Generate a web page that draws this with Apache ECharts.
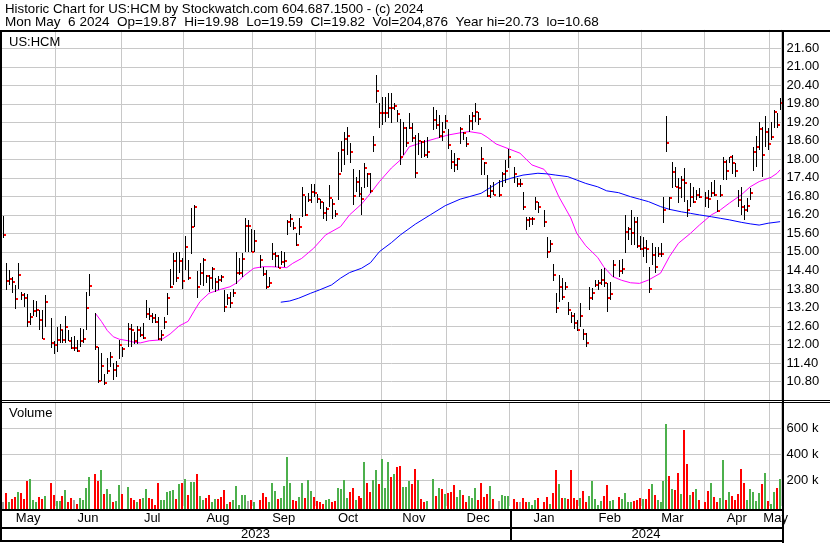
<!DOCTYPE html>
<html><head><meta charset="utf-8">
<script src="https://cdn.jsdelivr.net/npm/echarts@6/dist/echarts.min.js"></script>
<style>html,body{margin:0;padding:0;background:#fff}#c{width:830px;height:543px}</style>
</head><body><div id="c"></div>
<script>
// ---------- DATA ----------
const startDate = '2023-05-08';
const endDate = '2024-05-06';
const holidays = ['2023-05-29','2023-06-19','2023-07-04','2023-09-04','2023-11-23','2023-12-25','2024-01-01','2024-01-15','2024-02-19','2024-03-29'];

const highs = [
16.15,14.63,14.41,14.20,13.93, 14.63,13.71,13.66,13.64,13.01, 13.44,13.42,13.12,13.12,13.60, null,12.85,12.11,
12.56,12.66, 12.47,12.92,12.47,12.25,12.27, 12.15,12.53,12.51,13.71,14.30, null,13.01,11.93,11.71,11.04, 11.55,11.75,11.39,11.46,12.15,
11.93,null,12.69,12.65,12.40, 12.60,12.56,12.71,13.44,13.17, 13.03,12.98,12.88,12.47,12.90, 13.66,14.45,14.97,15.00,15.01, 14.79,
15.52,14.74,16.41,16.52, 14.38,14.65,14.79,14.25,14.24, 14.50,14.14,14.22,14.25,13.77, 13.64,13.71,13.81,15.00,14.80, 14.98,16.09,16.03,15.73,
15.71,null,14.90,14.52,14.41,14.20, 15.30,15.01,14.90,15.04,15.01, 16.03,16.22,15.98,15.60,16.11, 17.12,16.81,16.92,17.20,17.20,
16.88,16.70,16.63,16.45,17.17, 16.70,16.36,18.25,18.60,18.90, 19.04,18.52,17.68,17.44,17.66, 17.12,17.87,17.55,17.55,18.76, 20.73,19.82,
20.03,20.01,20.14, 20.14,19.82,19.60,19.30,19.22, 19.06,19.49,19.17,18.79,18.84, 18.60,18.63,18.74,null,19.71, 19.60,19.45,19.20,19.45,
19.00, 18.30,18.20,18.05,19.05,18.90, 18.74,19.44,19.55,19.82,19.55, 18.41,17.92,17.49,17.17,17.28, null,17.33,17.60,17.98,18.33,
null,17.76,17.39,17.35,16.95, 16.14,16.14,16.14,16.79,16.63, null,16.36,15.49,15.39,14.61, 13.66,14.25,14.14,14.04,13.39, 13.06,13.01,12.79,
13.33,12.49, 12.36,13.87,13.82,14.09,14.09, 14.44,14.47,13.98,14.04,14.74, null,14.74,14.78,16.20,15.82, 16.36,16.14,16.14,15.50,
15.47, 15.39,14.52,15.28,15.17,15.17, 15.28,16.79,19.41,16.79,17.93, 17.76,17.39,17.46,17.71,16.68, 17.22,17.12,17.00,17.06,null,
16.95,17.00,17.28,17.33,16.68, 17.17,18.09,17.98,18.09,18.14, 17.87,17.01,17.12,16.52,16.74, 17.06,18.41,18.76,19.22,19.06, 19.41,19.01,
19.22,19.60,19.49, 19.98];

const lows = [
15.45,13.77,13.93,13.68,13.16, 13.79,13.43,13.20,12.58,12.64, 12.92,12.90,12.47,12.19,12.58, null,11.87,11.68,
11.77,12.04, 12.06,12.04,12.10,11.84,11.80, 11.76,11.93,12.06,12.47,13.57, null,11.82,10.74,10.83,10.68, 11.04,11.28,10.85,10.96,11.52,
11.60,null,11.93,11.92,12.00, 12.00,12.25,12.19,12.85,12.79, 12.68,12.68,12.14,12.12,12.49, 12.96,13.82,13.93,14.04,14.33, 13.79,
14.41,14.09,14.92,15.82, 13.50,13.93,13.90,13.98,13.71, 13.79,13.71,13.77,14.04,13.06, 13.28,13.17,13.55,13.96,14.25, 14.18,15.01,15.01,15.01,
15.01,null,14.47,14.22,13.79,13.87, 14.74,14.52,14.47,14.58,14.52, 15.55,15.82,15.71,15.19,15.55, 16.14,16.16,16.63,16.58,16.79,
16.58,16.38,16.06,16.01,16.45, 16.08,16.14,16.68,17.60,17.82, 18.14,17.89,16.52,16.95,16.79, 16.20,17.06,17.12,16.90,18.25, 19.82,19.01,
19.11,19.22,19.33, 19.17,19.60,19.22,17.82,18.14, 18.41,19.00,18.57,17.39,18.14, 18.03,18.09,18.03,null,18.95, 19.00,18.70,18.60,19.00,
18.35, 17.70,17.60,17.65,18.50,18.63, 18.41,18.90,18.95,19.22,19.11, 17.49,17.49,16.79,16.74,16.85, null,16.79,17.12,17.22,17.71,
null,17.22,17.12,17.12,16.36, 15.71,15.82,15.87,16.36,16.25, null,15.82,14.79,15.01,14.07, 13.01,13.39,13.44,13.77,12.96, 12.69,12.49,12.45,
12.58,12.15, 11.93,13.12,13.44,13.87,13.77, 13.93,13.87,13.06,13.44,14.20, null,14.20,14.30,14.95,15.39, 15.22,15.22,15.12,15.06,
14.85, 14.63,13.66,14.58,14.31,14.85, 14.85,15.93,18.25,16.36,17.06, 17.12,16.57,16.74,16.63,16.14, 16.47,16.60,16.68,16.74,null,
16.47,16.41,16.79,16.80,16.31, 16.79,17.33,17.33,17.87,17.52, 17.44,16.44,16.20,16.04,16.31, 16.68,17.63,17.76,18.30,17.44, 18.41,18.30,
18.63,19.01,19.01, 19.59];

const closes = [
15.55,14.07,14.13,14.04,13.49, 14.26,13.61,13.52,12.73,12.90, 13.10,13.12,12.80,12.19,13.39, null,12.04,11.99,
12.13,12.48, 12.16,12.58,12.12,11.87,11.87, 11.80,12.12,12.19,13.19,13.91, null,11.93,10.83,11.31,10.76, 11.15,11.58,11.17,11.31,11.99,
11.84,null,12.51,12.46,12.12, 12.48,12.32,12.21,12.99,12.92, 12.85,12.74,12.18,12.31,12.74, 13.52,13.87,14.72,14.16,14.72, 14.07,
15.17,14.16,15.82,16.47, 13.87,14.33,14.74,14.22,14.14, 14.45,14.02,14.09,14.18,13.22, 13.50,13.35,13.68,14.33,14.31, 14.78,15.85,15.85,15.01,
15.36,null,14.75,14.28,13.87,14.00, 14.93,14.87,14.49,14.67,14.72, 15.98,16.06,15.79,15.23,15.82, 16.85,16.20,16.68,16.95,16.92,
16.72,16.63,16.27,16.40,16.76, 16.56,16.23,17.52,18.30,18.67, 18.76,18.24,16.81,17.27,16.88, 16.72,17.73,17.53,16.98,18.46, 20.23,19.49,
19.49,19.49,19.68, 19.68,19.74,19.47,18.09,19.01, 18.52,19.03,18.68,17.57,18.61, 18.57,18.15,18.23,null,19.27, 19.10,18.75,18.90,19.24,
18.45, 17.92,17.82,18.00,18.97,18.84, 18.49,19.25,19.40,19.52,19.32, 18.02,17.87,16.81,16.99,16.85, null,16.86,17.52,17.63,18.09,
null,17.52,17.21,17.21,16.47, 16.04,16.06,16.08,16.61,16.47, null,15.98,15.01,15.26,14.26, 13.19,13.87,13.55,13.85,13.12, 12.92,12.69,12.47,
12.92,12.35, 12.06,13.52,13.68,13.94,13.98, 14.09,14.00,13.52,13.65,14.59, null,14.39,14.46,15.66,15.74, 15.62,15.97,15.19,15.11,
15.14, 15.10,13.80,14.89,14.52,14.92, 14.94,16.36,18.54,16.75,17.60, 17.12,17.08,17.33,17.24,16.36, 16.79,16.62,16.85,16.78,null,
16.75,16.72,16.92,16.85,16.33, 16.85,17.93,17.63,18.09,17.87, 17.63,16.68,16.44,16.36,16.50, 16.92,18.25,18.41,18.98,18.15, 18.90,18.50,
18.74,19.52,19.11, 19.82];

// volume in thousands of shares, ten trading-day slots per row
const volumesK = [
33,98,33,54,69,108,100,54,193,208,        // 0-9
46,28,69,54,77,null,178,85,39,39,         // 10-19
77,124,31,62,46,15,62,46,139,224,         // 20-29
null,247,193,278,93,131,93,31,39,162,     // 30-39
93,null,147,62,46,31,54,62,131,62,        // 40-49
54,10,178,46,46,108,116,124,54,170,       // 50-59
178,208,85,185,185,247,77,46,62,85,       // 60-69
31,54,54,69,124,15,31,46,154,5,           // 70-79
85,85,39,46,28,null,46,100,69,31,         // 80-89
178,116,54,62,154,378,178,46,39,69,       // 90-99
178,62,201,116,69,39,28,12,46,54,         // 100-109
31,39,139,131,201,62,108,139,46,77,       // 110-119
62,340,178,108,201,278,170,363,139,340,   // 120-129
224,247,301,309,147,147,193,170,286,201,  // 130-139
54,31,39,null,208,77,139,131,93,100,      // 140-149
108,162,69,124,85,31,77,62,139,46,        // 150-159
178,69,93,154,54,null,39,85,77,77,        // 160-169
null,54,28,31,62,31,31,10,46,62,          // 170-179
null,31,69,15,100,278,170,62,62,54,       // 180-189
278,62,46,62,116,28,77,193,54,8,          // 190-199
39,77,162,39,46,null,69,54,100,31,        // 200-209
31,39,46,62,54,54,131,170,85,46,          // 210-219
28,193,633,232,131,124,255,93,587,324,    // 220-229
85,108,131,46,null,28,116,178,69,31,      // 230-239
62,355,46,108,77,46,93,286,178,46,        // 240-249
131,108,39,100,170,255,39,15,108,139,     // 250-259
205];                                     // 260
// volume bar colour: g = up, r = down, n = unchanged, - = no trading
const volColors = [
'nrgrrgrrrg','ggrrg-rrgg','rgrrnrgggg','-rrgrggrgg','r-grrgrggr',
'rrrgggggrg','rgrggrggrr','ggrrrgrggg','ggnrg-rrrg','ggrggggrrg',
'grggrrrrgg','rrggggrrgr','rgrrggrggg','rgrrgggrrg','rrg-grgrgr',
'rrggrrgggr','rrrgr-nggg','-rrnrrgggr','-rrgrrgrgr','rrrgrrgggg',
'grrgg-rggg','grrrgrrgrg','gggrgrrgrr','grgr-rrgrr','ggrgrrrrrg',
'ggggrgrggr','g'].join('');

// moving averages: [trading-day index, value]
const pinkMA = [[31,13.01],[33,12.75],[35,12.45],[37,12.25],[39,12.17],[42,12.12],[44,12.07],[46,12.05],[49,12.12],[53,12.15],[56,12.34],[59,12.6],[62,12.75],[64,13.08],[66,13.39],[69,13.66],[73,13.79],[76,13.87],[78,13.98],[81,14.25],[84,14.47],[87,14.52],[90,14.52],[95,14.49],[97,14.63],[100,14.79],[104,15.12],[108,15.55],[113,15.82],[116,16.2],[120,16.55],[123,16.9],[126,17.28],[130,17.72],[133,17.98],[136,18.41],[141,18.57],[145,18.68],[149,18.79],[153,18.86],[156,18.9],[160,18.84],[162,18.72],[165,18.5],[169,18.35],[173,18.2],[177,17.82],[181,17.68],[183,17.44],[186,16.79],[190,16.1],[192,15.6],[195,15.2],[199,14.82],[201,14.52],[204,14.2],[207,14.08],[210,14.0],[213,13.98],[216,14.09],[220,14.31],[223,14.85],[226,15.28],[230,15.6],[233,15.87],[237,16.2],[240,16.36],[243,16.58],[247,16.85],[250,17.11],[253,17.28],[257,17.42],[259,17.55],[260,17.66]];
const blueMA = [[93,13.37],[96,13.41],[99,13.5],[103,13.66],[106,13.77],[110,13.93],[113,14.15],[116,14.33],[120,14.47],[123,14.65],[126,15.01],[130,15.3],[133,15.55],[138,15.9],[143,16.2],[148,16.5],[153,16.71],[156,16.79],[160,16.9],[163,17.08],[166,17.26],[170,17.39],[174,17.49],[179,17.55],[182,17.53],[185,17.49],[189,17.44],[192,17.33],[195,17.22],[199,17.11],[202,16.98],[206,16.92],[210,16.79],[213,16.71],[216,16.63],[220,16.47],[223,16.38],[227,16.3],[230,16.25],[233,16.2],[237,16.14],[240,16.09],[243,16.04],[247,15.96],[250,15.91],[253,15.87],[256,15.93],[260,15.98]];

const priceTicks = {min: 10.2, max: 22.2, step: 0.6};
const volTicks = {min: 0, max: 800000, step: 200000};
const monthNames = ['Jan','Feb','Mar','Apr','May','Jun','Jul','Aug','Sep','Oct','Nov','Dec'];
const headerLine1 = 'Historic Chart for US:HCM by Stockwatch.com 604.687.1500 - (c) 2024';
const headerLine2 = 'Mon May  6 2024  Op=19.87  Hi=19.98  Lo=19.59  Cl=19.82  Vol=204,876  Year hi=20.73  lo=10.68';

// ---------- BUILD ----------
const dates = [];
(function(){
  const d = new Date(startDate + 'T00:00:00Z'), e = new Date(endDate + 'T00:00:00Z');
  while (d <= e) {
    const wd = d.getUTCDay();
    if (wd !== 0 && wd !== 6) dates.push(d.toISOString().slice(0,10));
    d.setUTCDate(d.getUTCDate() + 1);
  }
})();
const monthStart = new Set();
dates.forEach((s,i)=>{ if (i>0 && s.slice(0,7) !== dates[i-1].slice(0,7)) monthStart.add(i); });

const FONT = '"Liberation Sans", Arial, sans-serif';
const GRID = '#c8c8c8';
const COLORS = {g:'#4cb04c', r:'#ff0000', n:'#a8a8a8'};

const barData = [], volData = [], volCol = [];
for (let i = 0; i < dates.length; i++) {
  if (highs[i] != null) barData.push([i, highs[i], lows[i], closes[i]]);
  if (volumesK[i] != null) { volData.push([i, volumesK[i]*1000]); volCol.push(volColors[i]); }
}

function renderBar(params, api) {
  const i = api.value(0);
  const ph = api.coord([i, api.value(1)]);
  const pl = api.coord([i, api.value(2)]);
  const pc = api.coord([i, api.value(3)]);
  const x = Math.round(ph[0]);
  return {type:'group', children:[
    {type:'rect', shape:{x:x, y:Math.round(ph[1]), width:1, height:Math.max(1, Math.round(pl[1]) - Math.round(ph[1]))}, style:{fill:'#000'}},
    {type:'rect', shape:{x:x+1, y:Math.round(pc[1])-1, width:2, height:2}, style:{fill:'#ff0000'}}
  ]};
}
function renderVol(params, api) {
  const i = api.value(0);
  const p = api.coord([i, api.value(1)]);
  const base = params.coordSys.y + params.coordSys.height + 3;
  const x = Math.round(p[0]);
  const top = Math.round(p[1]);
  return {type:'rect', shape:{x:x-1, y:top, width:2, height:base-top}, style:{fill:COLORS[volCol[params.dataIndex]] || COLORS.n}};
}

const xAxisBase = gi => ({
  type:'category', gridIndex:gi, data:dates, boundaryGap:true,
  axisLine:{show:false}, axisTick:{show:false}, axisLabel:{show:false},
  splitLine:{show:true, interval:(idx)=>monthStart.has(idx), lineStyle:{color:GRID, width:1}}
});

const option = {
  animation:false,
  backgroundColor:'#fff',
  grid:[
    {left:1.2, top:29.8, width:780.4, height:370.2},
    {left:1.2, top:402.4, width:780.4, height:103.6}
  ],
  xAxis:[xAxisBase(0), xAxisBase(1)],
  yAxis:[
    {type:'value', gridIndex:0, position:'right', min:priceTicks.min, max:priceTicks.max, interval:priceTicks.step,
     axisLine:{show:false}, axisTick:{show:false},
     axisLabel:{margin:5, color:'#000', fontFamily:FONT, fontSize:13, showMinLabel:false, showMaxLabel:false, formatter:v=>v.toFixed(2)},
     splitLine:{show:true, lineStyle:{color:GRID, width:1}}},
    {type:'value', gridIndex:1, position:'right', min:volTicks.min, max:volTicks.max, interval:volTicks.step,
     axisLine:{show:false}, axisTick:{show:false},
     axisLabel:{margin:5, color:'#000', fontFamily:FONT, fontSize:13, showMinLabel:false, showMaxLabel:false,
       formatter:v=>(v<=0||v>=volTicks.max)?'':(v/1000)+' k'},
     splitLine:{show:true, showMinLine:false, showMaxLine:false, lineStyle:{color:GRID, width:1}}}
  ],
  series:[
    {type:'line', xAxisIndex:0, yAxisIndex:0, data:pinkMA, showSymbol:false, symbol:'none', silent:true, z:2,
     lineStyle:{color:'#ff00ff', width:1}},
    {type:'line', xAxisIndex:0, yAxisIndex:0, data:blueMA, showSymbol:false, symbol:'none', silent:true, z:2,
     lineStyle:{color:'#0000ff', width:1}},
    {type:'custom', xAxisIndex:0, yAxisIndex:0, data:barData, renderItem:renderBar, encode:{x:0, y:[1,2,3]}, silent:true, z:3},
    {type:'custom', xAxisIndex:1, yAxisIndex:1, data:volData, renderItem:renderVol, encode:{x:0, y:1}, silent:true, clip:false, z:3}
  ]
};

const chart = echarts.init(document.getElementById('c'), null, {renderer:'canvas'});
chart.setOption(option);

// ---------- frame, header and date labels ----------
const px = i => chart.convertToPixel({xAxisIndex:1}, dates[i]);
const band = px(1) - px(0);
const g = [];
const txt = (text, x, y, align, sx) => ({type:'text', z:50, x:x, y:y, scaleX:sx||1,
  style:{text, x:0, y:0, font:'13px ' + FONT, fill:'#000', align:align||'left', verticalAlign:'middle'}});
const box = (x, y, w, h) => ({type:'rect', z:100, shape:{x, y, width:w, height:h}, style:{fill:'#000'}});

g.push(txt(headerLine1, 5, 9, 'left', 1.02));
g.push(txt(headerLine2, 5, 22.5, 'left', 1.04));
g.push(txt('US:HCM', 9, 42));
g.push(txt('Volume', 9, 413));

// month labels centred on each month's span
const months = [];
dates.forEach((s,i)=>{
  const k = s.slice(0,7);
  if (!months.length || months[months.length-1].k !== k) months.push({k, a:i, b:i});
  else months[months.length-1].b = i;
});
months.forEach(m=>{
  const x = (px(m.a) + px(m.b)) / 2;
  g.push(txt(monthNames[+m.k.slice(5,7)-1], x, 518.5, 'center'));
});
// year row
const firstOf2024 = dates.findIndex(s=>s.startsWith('2024'));
const sepX = Math.round(px(firstOf2024) - band/2);
g.push(txt('2023', (1 + sepX)/2, 534.5, 'center'));
g.push(txt('2024', (sepX + 782)/2, 534.5, 'center'));

// frame
g.push(box(0, 30, 830, 2));      // top
g.push(box(0, 30, 2, 512));      // left
g.push(box(782, 30, 2, 513));    // right
g.push(box(0, 400, 830, 1));     // price / volume separator
g.push(box(0, 402, 830, 1));
g.push(box(0, 509, 784, 2));     // volume bottom
g.push(box(0, 527, 784, 2));     // month row bottom
g.push(box(0, 540, 784, 2));     // year row bottom
g.push(box(sepX, 509, 2, 33));   // year separator

chart.setOption({graphic:g});
</script></body></html>
